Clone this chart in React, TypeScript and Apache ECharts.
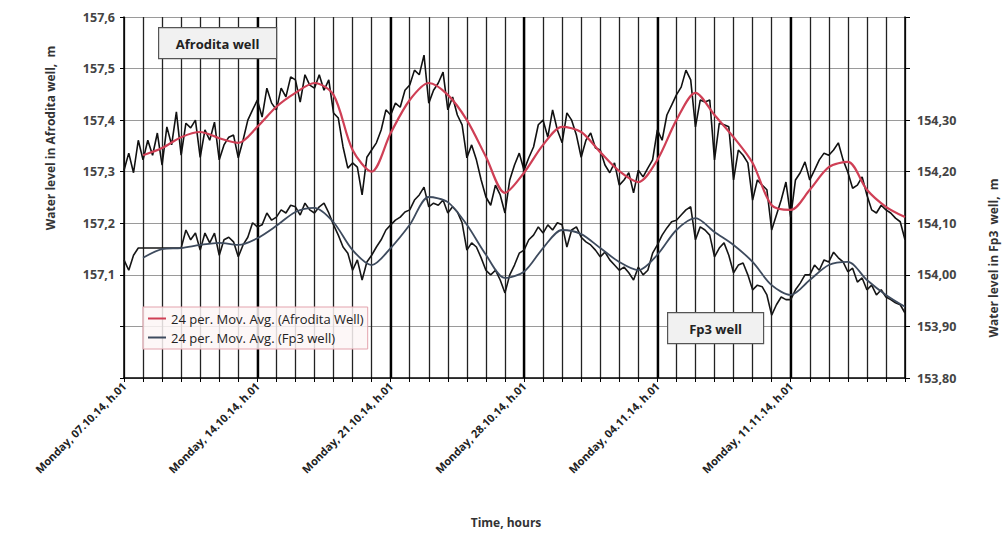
import React, { useEffect, useRef } from "react";
import * as echarts from "echarts";

// Hourly record, sampled every 6 hours, starting Monday 07.10.14 h.01
const STEP_HOURS = 6;
const AVG_START_HOUR = 24;
const AVG_STEP_HOURS = 24;

const weekLabels = [
  "Monday, 07.10.14, h.01",
  "Monday, 14.10.14, h.01",
  "Monday, 21.10.14, h.01",
  "Monday, 28.10.14, h.01",
  "Monday, 04.11.14, h.01",
  "Monday, 11.11.14, h.01",
];

// Afrodita well water level, m
const afroRaw = [
  157.303, 157.336, 157.298, 157.361,
  157.323, 157.361, 157.332, 157.375,
  157.313, 157.387, 157.352, 157.416,
  157.332, 157.394, 157.385, 157.400,
  157.328, 157.381, 157.361, 157.396,
  157.323, 157.352, 157.367, 157.371,
  157.327, 157.361, 157.400, 157.420,
  157.439, 157.406, 157.462, 157.433,
  157.420, 157.462, 157.445, 157.484,
  157.478, 157.435, 157.488, 157.468,
  157.462, 157.488, 157.458, 157.478,
  157.414, 157.404, 157.348, 157.307,
  157.317, 157.309, 157.255, 157.328,
  157.342, 157.356, 157.381, 157.420,
  157.410, 157.433, 157.425, 157.458,
  157.468, 157.497, 157.488, 157.526,
  157.433, 157.458, 157.472, 157.493,
  157.420, 157.445, 157.410, 157.391,
  157.327, 157.352, 157.323, 157.284,
  157.251, 157.235, 157.274, 157.255,
  157.220, 157.284, 157.313, 157.336,
  157.303, 157.327, 157.348, 157.391,
  157.400, 157.367, 157.420, 157.381,
  157.356, 157.414, 157.400, 157.371,
  157.328, 157.361, 157.375, 157.346,
  157.342, 157.313, 157.298, 157.317,
  157.274, 157.284, 157.298, 157.259,
  157.303, 157.290, 157.307, 157.323,
  157.381, 157.361, 157.410, 157.429,
  157.449, 157.464, 157.497, 157.478,
  157.387, 157.439, 157.435, 157.439,
  157.323, 157.394, 157.391, 157.387,
  157.284, 157.342, 157.332, 157.317,
  157.245, 157.284, 157.274, 157.265,
  157.187, 157.216, 157.245, 157.280,
  157.212, 157.284, 157.298, 157.319,
  157.284, 157.303, 157.323, 157.336,
  157.332, 157.342, 157.356, 157.323,
  157.299, 157.268, 157.274, 157.290,
  157.255, 157.226, 157.220, 157.235,
  157.226, 157.220, 157.210, 157.203,
  157.168,
];

// 24 per. moving average of Afrodita well, one value per day
const afroAvg = [
  157.332, 157.346, 157.367, 157.377, 157.365, 157.356, 157.387, 157.426,
  157.453, 157.472, 157.449, 157.342, 157.300, 157.375, 157.439, 157.472,
  157.449, 157.400, 157.329, 157.259, 157.298, 157.352, 157.387, 157.377,
  157.338, 157.301, 157.280, 157.323, 157.400, 157.453, 157.410, 157.367,
  157.317, 157.235, 157.226, 157.265, 157.309, 157.319, 157.265, 157.232,
  157.212,
];

// Fp3 well water level, m
const fp3Raw = [
  154.029, 154.009, 154.038, 154.052,
  154.052, 154.052, 154.052, 154.052,
  154.052, 154.052, 154.052, 154.052,
  154.052, 154.087, 154.068, 154.081,
  154.048, 154.081, 154.062, 154.081,
  154.038, 154.068, 154.073, 154.064,
  154.035, 154.058, 154.073, 154.101,
  154.093, 154.097, 154.120, 154.106,
  154.112, 154.126, 154.120, 154.135,
  154.132, 154.116, 154.139, 154.126,
  154.120, 154.132, 154.139, 154.120,
  154.097, 154.077, 154.054, 154.042,
  154.009, 154.029, 153.990, 154.025,
  154.038, 154.054, 154.068, 154.087,
  154.097, 154.106, 154.112, 154.122,
  154.126, 154.145, 154.155, 154.170,
  154.132, 154.139, 154.135, 154.145,
  154.120, 154.132, 154.122, 154.101,
  154.048, 154.062, 154.054, 154.033,
  154.009, 154.000, 154.009, 153.990,
  153.965, 154.000, 154.019, 154.042,
  154.048, 154.068, 154.077, 154.093,
  154.081, 154.097, 154.087, 154.101,
  154.097, 154.054, 154.087, 154.093,
  154.073, 154.064, 154.058, 154.048,
  154.035, 154.044, 154.029, 154.019,
  154.009, 154.015, 154.004, 153.990,
  154.015, 154.000, 154.009, 154.042,
  154.058, 154.077, 154.091, 154.103,
  154.106, 154.116, 154.126, 154.132,
  154.068, 154.093, 154.087, 154.077,
  154.035, 154.052, 154.062, 154.038,
  154.004, 154.019, 154.023, 154.000,
  153.971, 153.980, 153.977, 153.961,
  153.922, 153.942, 153.957, 153.952,
  153.952, 153.971, 153.984, 154.000,
  154.000, 154.019, 154.009, 154.029,
  154.025, 154.044, 154.033, 154.025,
  154.006, 154.013, 153.986, 153.994,
  153.971, 153.980, 153.961, 153.971,
  153.957, 153.952, 153.946, 153.942,
  153.926,
];

// 24 per. moving average of Fp3 well, one value per day
const fp3Avg = [
  154.033, 154.050, 154.052, 154.058, 154.062, 154.058, 154.071, 154.095,
  154.122, 154.130, 154.102, 154.048, 154.019, 154.052, 154.097, 154.151,
  154.141, 154.097, 154.039, 153.994, 154.006, 154.052, 154.087, 154.079,
  154.052, 154.025, 154.009, 154.039, 154.087, 154.110, 154.083, 154.058,
  154.025, 153.980, 153.961, 153.990, 154.019, 154.025, 153.990, 153.961,
  153.938,
];

const AFRO_AVG_NAME = "24 per. Mov. Avg. (Afrodita Well)";
const FP3_AVG_NAME = "24 per. Mov. Avg. (Fp3 well)";

const FONT = "'Open Sans', Lato, sans-serif";
const HOURS_PER_WEEK = 168;
const X_MAX = 984;

const rawPairs = (arr: number[]) => arr.map((v, i) => [i * STEP_HOURS, v]);
const avgPairs = (arr: number[]) =>
  arr.map((v, i) => [AVG_START_HOUR + i * AVG_STEP_HOURS, v]);

const labelBox = (
  left: number,
  top: number,
  width: number,
  text: string
) => ({
  type: "group",
  left,
  top,
  z: 100,
  children: [
    {
      type: "rect",
      z: 100,
      shape: { x: 0, y: 0, width, height: 31 },
      style: { fill: "#f1f1f1", stroke: "#555", lineWidth: 1.2 },
    },
    {
      type: "text",
      z: 101,
      x: width / 2,
      y: 16,
      style: {
        text,
        font: `bold 13px ${FONT}`,
        fill: "#222",
        textAlign: "center",
        textVerticalAlign: "middle",
      },
    },
  ],
});

export default function App() {
  const ref = useRef<HTMLDivElement>(null);

  useEffect(() => {
    if (!ref.current) return;
    const chart = echarts.init(ref.current, null, { renderer: "svg" });

    const mondayLines = weekLabels
      .slice(1)
      .map((_, i) => ({ xAxis: (i + 1) * HOURS_PER_WEEK }));

    chart.setOption({
      animation: false,
      backgroundColor: "#ffffff",
      textStyle: { fontFamily: FONT },
      grid: { left: 124, right: 101, top: 17, bottom: 156, containLabel: false },
      legend: {
        data: [AFRO_AVG_NAME, FP3_AVG_NAME],
        orient: "vertical",
        left: 143,
        top: 307,
        icon: "rect",
        itemWidth: 18,
        itemHeight: 2,
        itemGap: 6,
        padding: [5, 4, 5, 5],
        backgroundColor: "rgba(253,246,246,0.85)",
        borderColor: "#e3a3ad",
        borderWidth: 1,
        textStyle: { fontFamily: FONT, fontSize: 13, color: "#222" },
      },
      xAxis: {
        type: "value",
        min: 0,
        max: X_MAX,
        interval: 24,
        axisLine: { show: true, onZero: false, lineStyle: { color: "#000", width: 1.5 } },
        axisTick: { show: true, length: 4, lineStyle: { color: "#000" } },
        splitLine: { show: true, lineStyle: { color: "#222", width: 1.3 } },
        axisLabel: {
          rotate: 45,
          margin: 6,
          fontFamily: FONT,
          fontSize: 11,
          fontWeight: "bold",
          color: "#222",
          formatter: (v: number) =>
            v % HOURS_PER_WEEK === 0 ? weekLabels[v / HOURS_PER_WEEK] ?? "" : "",
        },
      },
      yAxis: [
        {
          type: "value",
          min: 156.9,
          max: 157.6,
          interval: 0.1,
          axisLine: { show: true, lineStyle: { color: "#000", width: 1.5 } },
          axisTick: { show: true, length: 4, lineStyle: { color: "#000" } },
          splitLine: { show: true, lineStyle: { color: "#9a9a9a", width: 1 } },
          axisLabel: {
            margin: 9,
            fontFamily: FONT,
            fontSize: 12.5,
            fontWeight: "bold",
            color: "#444",
            formatter: (v: number) =>
              v >= 157.1 - 1e-6 ? v.toFixed(1).replace(".", ",") : "",
          },
        },
        {
          type: "value",
          position: "right",
          min: 153.8,
          max: 154.5,
          interval: 0.1,
          axisLine: { show: true, lineStyle: { color: "#000", width: 1.5 } },
          axisTick: { show: true, length: 5, lineStyle: { color: "#000" } },
          splitLine: { show: false },
          axisLabel: {
            margin: 12,
            fontFamily: FONT,
            fontSize: 12.5,
            fontWeight: "bold",
            color: "#444",
            formatter: (v: number) =>
              v <= 154.3 + 1e-6 ? v.toFixed(2).replace(".", ",") : "",
          },
        },
      ],
      series: [
        {
          name: "Afrodita well",
          type: "line",
          yAxisIndex: 0,
          data: rawPairs(afroRaw),
          showSymbol: false,
          lineStyle: { color: "#111", width: 1.6 },
          itemStyle: { color: "#111" },
          z: 3,
          markLine: {
            silent: true,
            symbol: "none",
            label: { show: false },
            lineStyle: { color: "#000", width: 2.4, type: "solid" },
            data: mondayLines,
            z: 2,
          },
        },
        {
          name: AFRO_AVG_NAME,
          type: "line",
          yAxisIndex: 0,
          data: avgPairs(afroAvg),
          showSymbol: false,
          smooth: 0.3,
          lineStyle: { color: "#cf3f55", width: 2.2 },
          itemStyle: { color: "#cf3f55" },
          z: 4,
        },
        {
          name: "Fp3 well",
          type: "line",
          yAxisIndex: 1,
          data: rawPairs(fp3Raw),
          showSymbol: false,
          lineStyle: { color: "#161616", width: 1.6 },
          itemStyle: { color: "#161616" },
          z: 3,
        },
        {
          name: FP3_AVG_NAME,
          type: "line",
          yAxisIndex: 1,
          data: avgPairs(fp3Avg),
          showSymbol: false,
          smooth: 0.3,
          lineStyle: { color: "#3e4b5e", width: 1.8 },
          itemStyle: { color: "#3e4b5e" },
          z: 4,
        },
      ],
      graphic: [
        labelBox(158, 27, 118, "Afrodita well"),
        labelBox(667, 312, 96, "Fp3 well"),
        {
          type: "text",
          x: 50,
          y: 138,
          rotation: Math.PI / 2,
          style: {
            text: "Water level in Afrodita well,  m",
            font: `bold 12px ${FONT}`,
            fill: "#333",
            textAlign: "center",
            textVerticalAlign: "middle",
          },
        },
        {
          type: "text",
          x: 993,
          y: 258,
          rotation: Math.PI / 2,
          style: {
            text: "Water level in Fp3  well,  m",
            font: `bold 12px ${FONT}`,
            fill: "#333",
            textAlign: "center",
            textVerticalAlign: "middle",
          },
        },
        {
          type: "text",
          x: 506,
          y: 522,
          style: {
            text: "Time, hours",
            font: `bold 12px ${FONT}`,
            fill: "#333",
            textAlign: "center",
            textVerticalAlign: "middle",
          },
        },
      ],
    });

    return () => chart.dispose();
  }, []);

  return (
    <div
      ref={ref}
      style={{ position: "fixed", left: 0, top: 0, width: 1006, height: 534 }}
    />
  );
}
